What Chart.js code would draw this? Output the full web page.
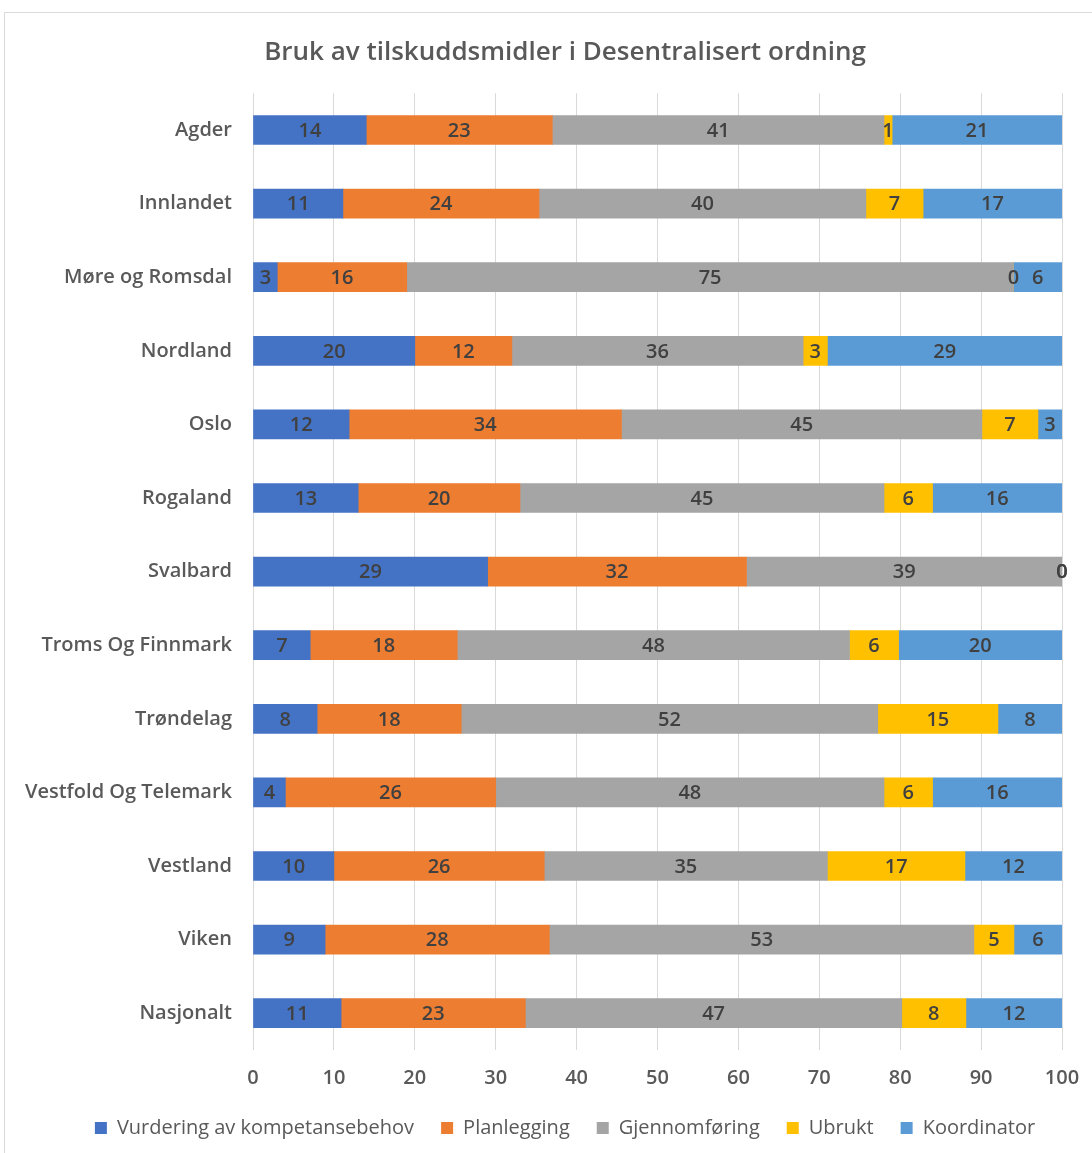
<!DOCTYPE html>
<html>
<head>
<meta charset="utf-8">
<script src="https://cdn.jsdelivr.net/npm/chart.js@4.4.1/dist/chart.umd.min.js"></script>
<style>
  html, body { margin: 0; padding: 0; background: #fff; overflow: hidden; }
  #wrap { position: relative; width: 1130px; height: 1153px; }
  #ramme { position: absolute; left: 4px; top: 12px; right: 0; bottom: -4px; border: 1px solid #d9d9d9; }
  canvas { position: absolute; left: 0; top: 0; }
</style>
</head>
<body>
<div id="wrap">
  <div id="ramme"></div>
  <canvas id="graf" width="1130" height="1153"></canvas>
</div>
<script>
// Regioner (rekkefolge som i diagrammet, ovenfra og ned)
const regioner = [
  "Agder", "Innlandet", "Møre og Romsdal", "Nordland", "Oslo", "Rogaland",
  "Svalbard", "Troms Og Finnmark", "Trøndelag", "Vestfold Og Telemark",
  "Vestland", "Viken", "Nasjonalt"
];

// Andel i prosent per kategori
const vurdering     = [14, 11, 3, 20, 12, 13, 29, 7, 8, 4, 10, 9, 11];
const planlegging   = [23, 24, 16, 12, 34, 20, 32, 18, 18, 26, 26, 28, 23];
const gjennomforing = [41, 40, 75, 36, 45, 45, 39, 48, 52, 48, 35, 53, 47];
const ubrukt        = [1, 7, 0, 3, 7, 6, 0, 6, 15, 6, 17, 5, 8];
const koordinator   = [21, 17, 6, 29, 3, 16, 0, 20, 8, 16, 12, 6, 12];

const xTicks = [0, 10, 20, 30, 40, 50, 60, 70, 80, 90, 100];

const serier = [
  { navn: "Vurdering av kompetansebehov", verdier: vurdering, farge: "#4472C4" },
  { navn: "Planlegging", verdier: planlegging, farge: "#ED7D31" },
  { navn: "Gjennomføring", verdier: gjennomforing, farge: "#A5A5A5" },
  { navn: "Ubrukt", verdier: ubrukt, farge: "#FFC000" },
  { navn: "Koordinator", verdier: koordinator, farge: "#5B9BD5" }
];

// 100 % stablet: hver rad skaleres til summen av radens verdier
const summer = regioner.map((_, i) => serier.reduce((s, k) => s + k.verdier[i], 0));

const FONT = "'Open Sans', 'Segoe UI', sans-serif";

// Tall midt i hvert segment
const verdiEtiketter = {
  id: "verdiEtiketter",
  afterDatasetsDraw(chart) {
    const ctx = chart.ctx;
    ctx.save();
    ctx.font = "600 20px " + FONT;
    ctx.fillStyle = "#404040";
    ctx.textAlign = "center";
    ctx.textBaseline = "middle";
    chart.data.datasets.forEach((ds, di) => {
      const meta = chart.getDatasetMeta(di);
      meta.data.forEach((bar, i) => {
        const p = bar.getProps(["x", "y", "base"], true);
        ctx.fillText(String(ds.raw[i]), (p.x + p.base) / 2, p.y + 1);
      });
    });
    ctx.restore();
  }
};

new Chart(document.getElementById("graf"), {
  type: "bar",
  data: {
    labels: regioner,
    datasets: serier.map(s => ({
      label: s.navn,
      raw: s.verdier,
      data: s.verdier.map((v, i) => v / summer[i] * 100),
      backgroundColor: s.farge,
      borderWidth: 0,
      barThickness: 29
    }))
  },
  options: {
    indexAxis: "y",
    responsive: false,
    animation: false,
    layout: { padding: { left: 0, right: 0, top: 0, bottom: 5 } },
    scales: {
      x: {
        stacked: true,
        min: 0,
        max: 100,
        afterBuildTicks: s => { s.ticks = xTicks.map(v => ({ value: v })); },
        afterFit: s => { s.height = 41; },
        grid: { color: "#d9d9d9", lineWidth: 1, drawTicks: false },
        border: { display: false },
        ticks: { color: "#595959", padding: 16, font: { family: FONT, size: 20, weight: "600" } }
      },
      y: {
        stacked: true,
        afterFit: s => { s.width = 253; },
        grid: { display: false, drawTicks: false },
        border: { display: false },
        ticks: { color: "#595959", padding: 21, font: { family: FONT, size: 20, weight: "600" } }
      },
      // tom akse til hoyre, holder plass slik at tittel og forklaring sentreres
      hoyre: {
        type: "category",
        position: "right",
        afterFit: s => { s.width = 68; },
        grid: { display: false, drawTicks: false },
        border: { display: false },
        ticks: { display: false }
      }
    },
    plugins: {
      title: {
        display: true,
        text: "Bruk av tilskuddsmidler i Desentralisert ordning",
        color: "#595959",
        font: { family: FONT, size: 26, weight: "600" },
        padding: { top: 37, bottom: 25 }
      },
      legend: {
        position: "bottom",
        labels: {
          boxWidth: 12,
          boxHeight: 12,
          padding: 27,
          color: "#595959",
          font: { family: FONT, size: 20 }
        }
      },
      tooltip: { enabled: false }
    }
  },
  plugins: [verdiEtiketter]
});
</script>
</body>
</html>
